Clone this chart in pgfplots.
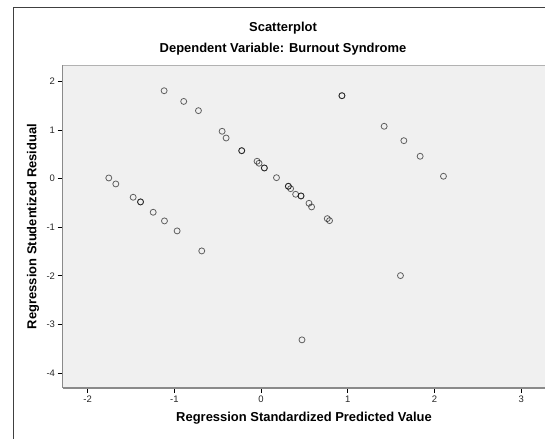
\documentclass[border=0pt]{standalone}
\usepackage{fontspec}
\setmainfont{Liberation Sans}
\usepackage{pgfplots}
\pgfplotsset{compat=1.18}

\definecolor{plotbg}{HTML}{F0F0F0}
\definecolor{axisgray}{HTML}{8A8A8A}

\begin{document}
\begin{tikzpicture}[x=1bp,y=1bp]
\useasboundingbox (0,0) rectangle (545,439);
\clip (0,0) rectangle (545,439);
% outer frame (cut at right and bottom)
\draw[black!75, line width=1bp] (13,-20) -- (13,431) -- (600,431);
\node[font=\fontsize{13}{15}\selectfont\bfseries] at (283,411) {Scatterplot};
\node[font=\fontsize{13}{15}\selectfont\bfseries] at (283,390) {Dependent Variable: Burnout Syndrome};
\node[font=\fontsize{13}{15}\selectfont\bfseries, rotate=90] at (33,212.5) {Regression Studentized Residual};
\begin{axis}[
  at={(62.5bp,51bp)}, anchor=south west,
  scale only axis,
  width=483bp, height=323bp,
  xmin=-2.29, xmax=3.281,
  ymin=-4.31, ymax=2.34,
  xtick={-2,-1,0,1,2,3},
  ytick={-4,-3,-2,-1,0,1,2},
  axis x line=bottom, axis y line=left,
  axis line style={-, axisgray, line width=1.6bp},
  axis background/.style={fill=plotbg},
  tick align=outside,
  major tick length=5bp,
  tick style={black, line width=0.6bp},
  /pgf/number format/assume math mode=true,
  tick label style={font=\fontsize{9.5}{11}\selectfont, black!85},
  xticklabel style={yshift=1bp},
  yticklabel style={xshift=1bp},
  xlabel={Regression Standardized Predicted Value},
  label style={font=\fontsize{13}{15}\selectfont\bfseries},
  xlabel style={at={(axis description cs:0.5,0)}, anchor=center, yshift=-30bp},
  clip=false,
]
\draw[black!30, line width=0.8bp] (rel axis cs:0,1) -- (rel axis cs:1,1);
\addplot[only marks, mark=o, mark size=3bp,
  mark options={draw=black, line width=0.8bp, opacity=0.6}]
  table {
x y
-1.118 1.81
-0.892 1.59
-0.722 1.40
-0.449 0.975
-0.403 0.837
-0.223 0.576
-0.223 0.576
-0.046 0.358
-0.023 0.317
0.038 0.22
0.038 0.22
0.178 0.02
-1.756 0.014
-1.675 -0.109
-1.475 -0.383
-1.39 -0.479
-1.39 -0.479
-1.244 -0.692
-1.114 -0.870
-0.968 -1.076
-0.684 -1.488
0.933 1.708
0.933 1.708
1.42 1.078
1.647 0.782
1.835 0.461
2.104 0.049
0.315 -0.157
0.315 -0.157
0.341 -0.206
0.399 -0.322
0.461 -0.356
0.461 -0.356
0.553 -0.507
0.583 -0.582
0.764 -0.823
0.79 -0.864
1.608 -1.996
0.472 -3.319
};
\end{axis}
\end{tikzpicture}
\end{document}
